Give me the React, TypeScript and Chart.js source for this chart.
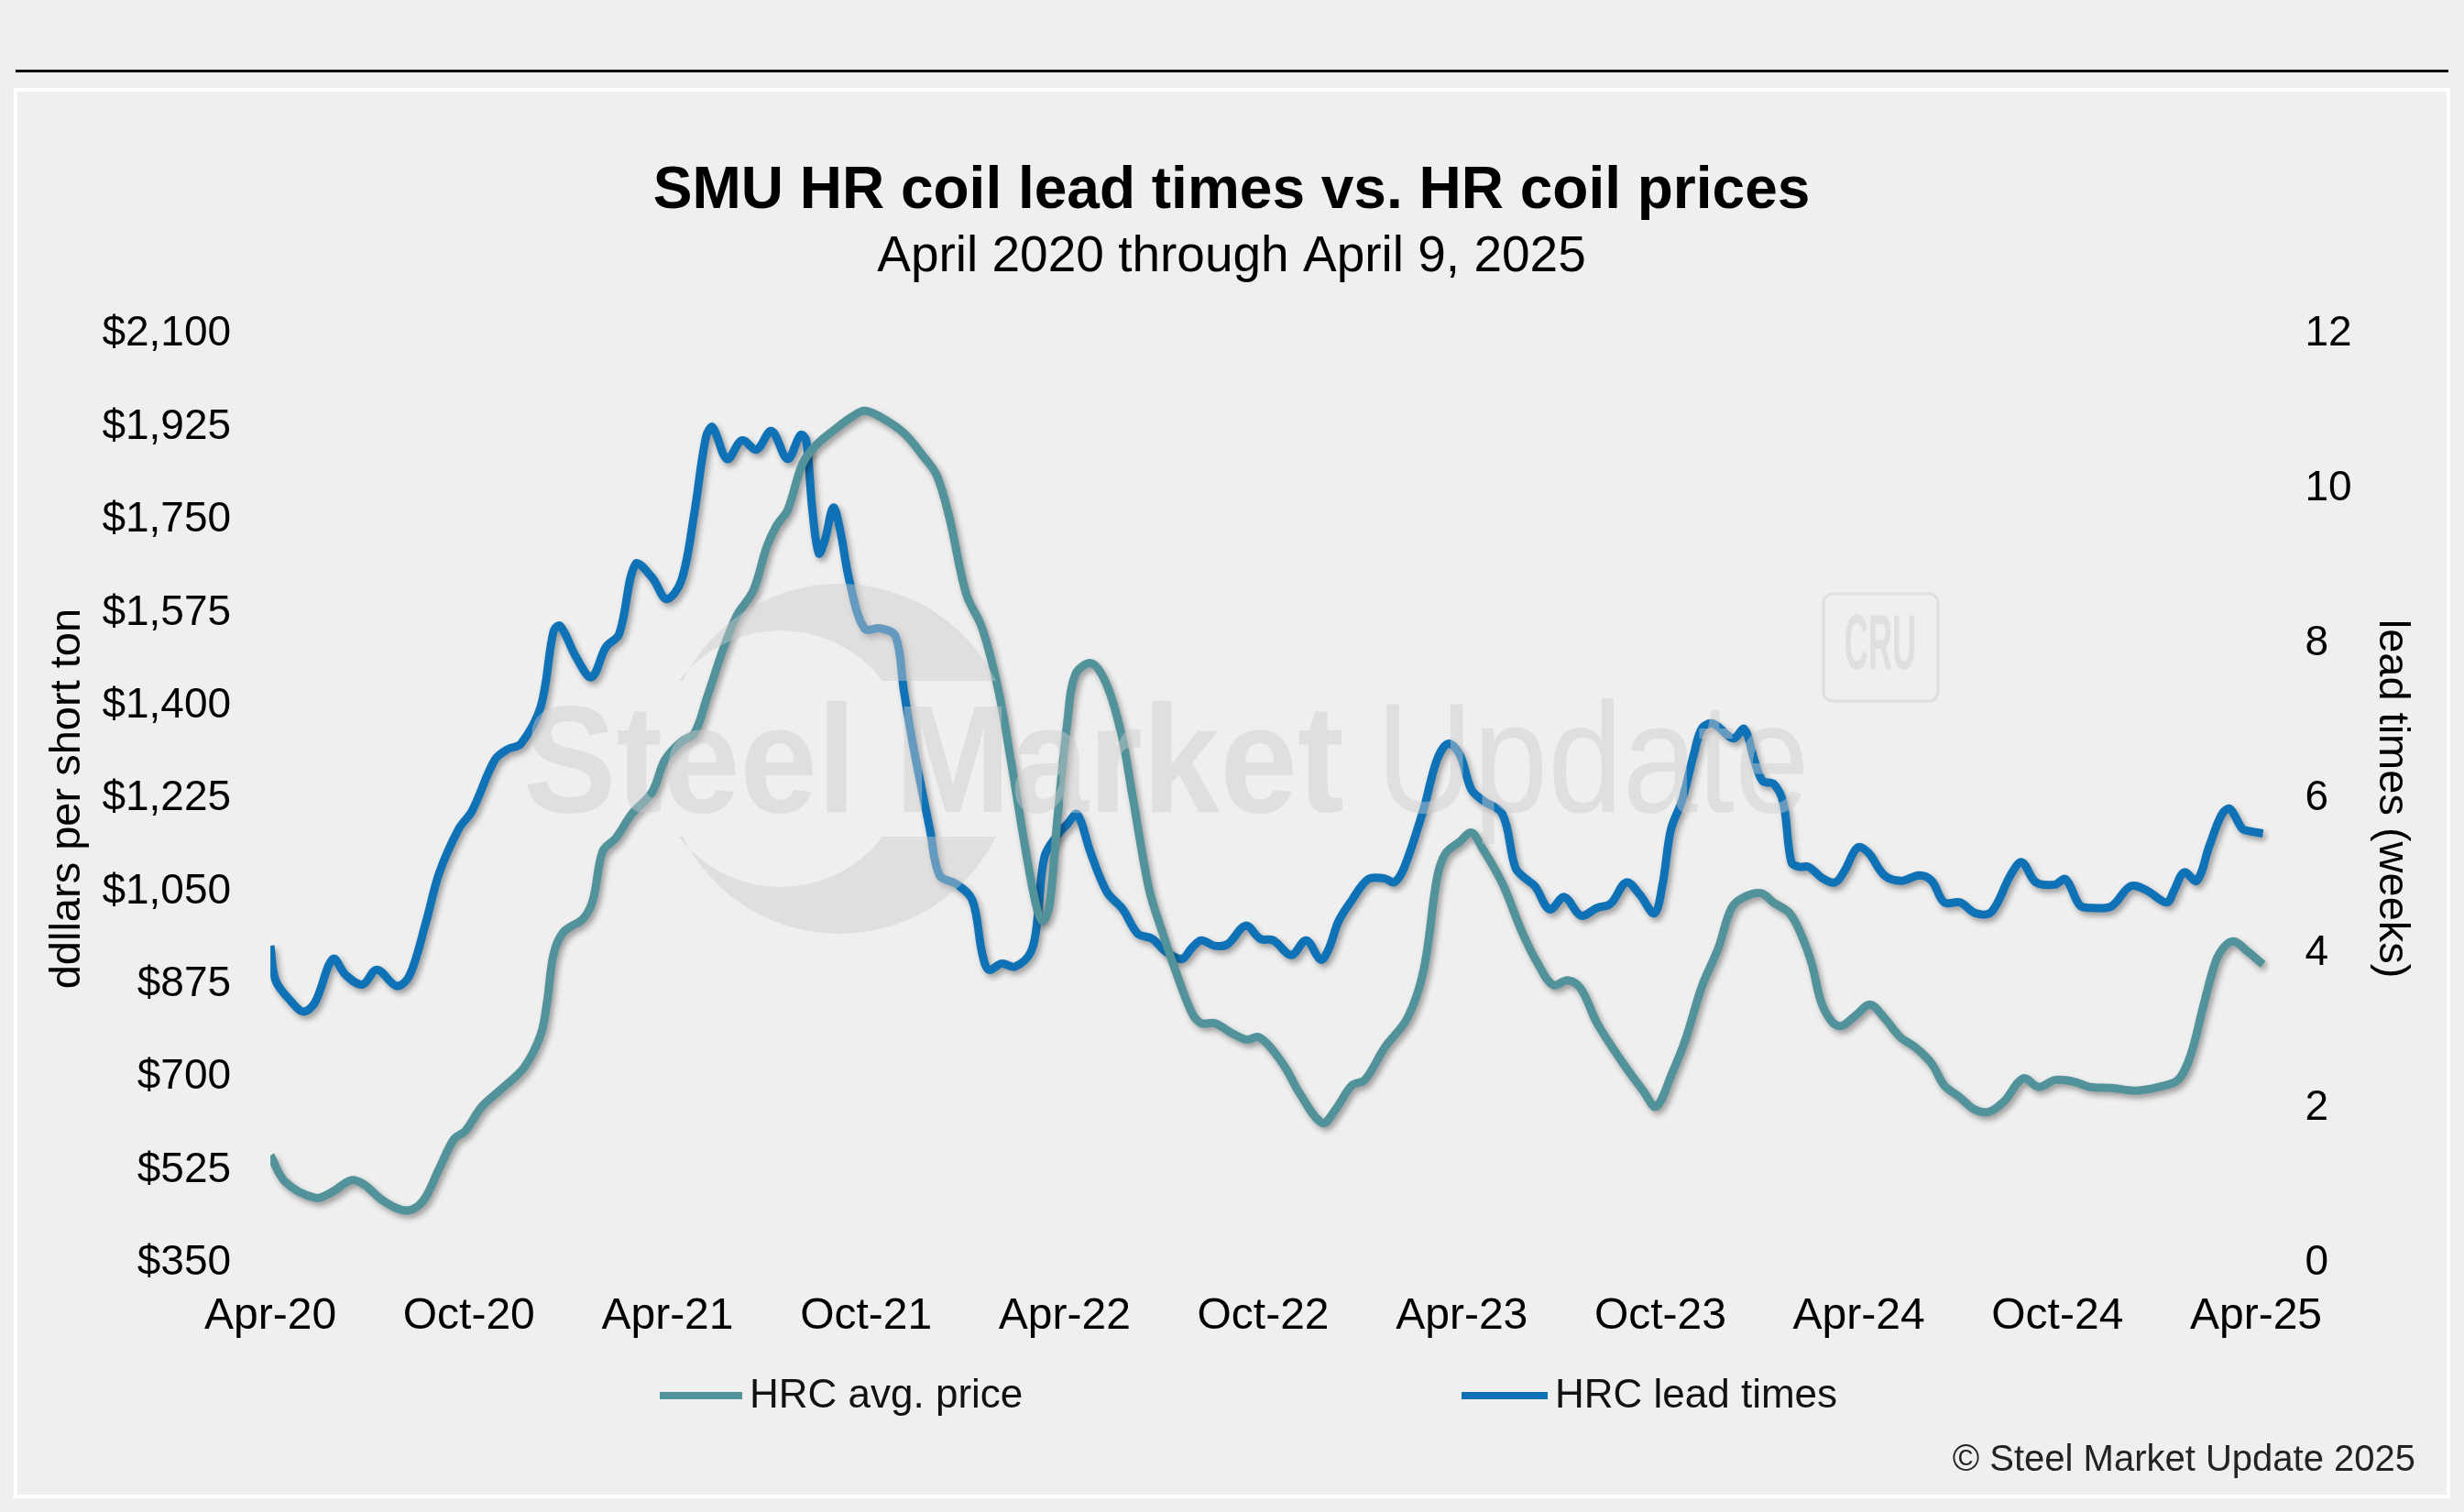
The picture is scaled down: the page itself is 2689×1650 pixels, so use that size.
import { useEffect, useRef } from 'react';
import { Chart, registerables } from 'chart.js';

Chart.register(...registerables);

// x positions are months since April 2020
const tickMonths = [0, 6, 12, 18, 24, 30, 36, 42, 48, 54, 60];
const tickLabels = ['Apr-20', 'Oct-20', 'Apr-21', 'Oct-21', 'Apr-22', 'Oct-22', 'Apr-23', 'Oct-23', 'Apr-24', 'Oct-24', 'Apr-25'];

const priceMonths = [
  0, 0.45, 1.35, 1.84, 2.43, 2.83, 3.42, 4.11, 4.61, 5.1, 5.55, 5.89, 6.39, 6.98, 7.67, 8.17, 8.36, 8.56, 8.86,
  9.45, 9.75, 10.04, 10.44, 10.93, 11.53, 11.92, 12.42, 12.81, 13.21, 13.7, 14.1, 14.59, 15.0, 15.3, 15.63,
  16.07, 16.47, 17.06, 17.56, 17.95, 18.44, 19.14, 19.73, 20.13, 20.52, 21.02, 21.51, 22.0, 22.4, 22.8, 23.14,
  23.34, 23.54, 23.78, 24.08, 24.33, 24.82, 25.27, 25.71, 26.06, 26.55, 26.95, 27.34, 27.84, 28.13, 28.53,
  29.12, 29.52, 29.86, 30.28, 30.7, 31.1, 31.79, 32.19, 32.68, 33.07, 33.67, 34.36, 34.85, 35.25, 35.5, 35.94,
  36.29, 36.63, 37.23, 37.82, 38.31, 38.76, 39.2, 39.6, 40.09, 40.88, 41.48, 41.87, 42.37, 42.76, 43.26, 43.75,
  44.15, 44.54, 45.04, 45.43, 45.91, 46.29, 46.58, 46.86, 47.2, 47.48, 47.91, 48.34, 48.77, 49.25, 49.72, 50.2,
  50.58, 51.06, 51.49, 51.92, 52.39, 52.96, 53.44, 53.92, 54.49, 54.97, 55.63, 56.39, 57.06, 57.64, 58.02,
  58.4, 58.78, 59.07, 59.35, 59.73, 60.21,
];
const priceValues = [
  553, 503, 473, 483, 506, 498, 467, 449, 467, 528, 584, 599, 645, 678, 719, 781, 842, 933, 974,
  999, 1035, 1126, 1151, 1197, 1237, 1298, 1333, 1348, 1419, 1510, 1571, 1617, 1700, 1740, 1769,
  1855, 1890, 1921, 1944, 1956, 1944, 1914, 1870, 1835, 1754, 1612, 1546, 1429, 1288, 1136, 1024,
  994, 1024, 1186, 1369, 1460, 1480, 1440, 1348, 1227, 1055, 974, 903, 822, 802, 802,
  781, 771, 776, 752, 715, 670, 614, 640, 685, 695, 756, 812, 903, 1075, 1121, 1144,
  1161, 1131, 1065, 974, 913, 874, 883, 867, 802, 726, 675, 645, 710, 771, 872, 943,
  1019, 1040, 1047, 1029, 1009, 964, 913, 842, 804, 797, 817, 837, 812, 776, 756, 726,
  685, 662, 640, 635, 655, 698, 682, 695, 692, 682, 680, 675, 682, 695, 741,
  832, 918, 948, 956, 938, 913,
];

const leadMonths = [
  0, 0.16, 0.65, 1.0, 1.35, 1.89, 2.28, 2.78, 3.22, 3.82, 4.21, 4.71, 5.1, 5.69, 6.09, 6.78, 7.18, 7.57, 8.17,
  8.56, 8.76, 9.25, 9.7, 10.14, 10.54, 11.03, 11.53, 11.97, 12.42, 12.81, 13.16, 13.36, 13.8, 14.25, 14.69,
  15.14, 15.63, 16.02, 16.19, 16.37, 16.57, 16.76, 17.01, 17.21, 17.51, 17.95, 18.44, 18.89, 19.14, 19.43,
  19.93, 20.22, 20.72, 21.21, 21.51, 21.71, 22.1, 22.5, 22.99, 23.19, 23.39, 23.78, 24.08, 24.38, 24.77, 25.27,
  25.76, 26.2, 26.65, 27.04, 27.54, 27.84, 28.13, 28.53, 28.92, 29.47, 29.91, 30.31, 30.85, 31.3, 31.74, 31.99,
  32.28, 32.68, 33.17, 33.67, 33.96, 34.26, 34.85, 35.25, 35.59, 35.94, 36.29, 36.63, 37.23, 37.62, 37.92,
  38.21, 38.66, 39.1, 39.6, 40.09, 40.49, 40.98, 41.38, 41.82, 42.07, 42.32, 42.66, 43.01, 43.26, 43.6, 44.2,
  44.54, 44.84, 45.09, 45.43, 45.72, 45.96, 46.2, 46.48, 46.91, 47.29, 47.58, 47.96, 48.29, 48.77, 49.29,
  49.82, 50.2, 50.58, 51.06, 51.53, 52.01, 52.58, 52.92, 53.35, 53.92, 54.25, 54.68, 55.06, 55.63, 56.21,
  56.68, 57.3, 57.54, 57.83, 58.21, 58.59, 58.97, 59.21, 59.59, 59.83, 60.21,
];
const leadValues = [
  4.1, 3.65, 3.37, 3.25, 3.37, 3.93, 3.72, 3.6, 3.79, 3.58, 3.72, 4.42, 5.04, 5.61, 5.84, 6.5, 6.64, 6.71, 7.19,
  8.17, 8.23, 7.82, 7.57, 7.96, 8.13, 9.03, 8.86, 8.58, 8.82, 9.69, 10.67, 10.8, 10.39, 10.63, 10.51,
  10.75, 10.39, 10.7, 10.63, 9.76, 9.17, 9.35, 9.76, 9.48, 8.79, 8.2, 8.2, 8.1, 7.4, 6.67,
  5.6, 5.01, 4.9, 4.69, 4.0, 3.79, 3.87, 3.83, 4.03, 4.49, 5.25, 5.53, 5.67, 5.8, 5.32, 4.8,
  4.57, 4.26, 4.19, 4.03, 3.93, 4.07, 4.17, 4.1, 4.12, 4.36, 4.19, 4.17, 3.98, 4.17, 3.92, 4.07,
  4.42, 4.69, 4.96, 4.97, 4.92, 5.11, 5.87, 6.5, 6.71, 6.57, 6.12, 5.98, 5.8, 5.11, 4.97,
  4.87, 4.57, 4.73, 4.49, 4.59, 4.64, 4.92, 4.76, 4.52, 4.9, 5.6, 5.98, 6.57, 6.91, 6.97, 6.78,
  6.9, 6.5, 6.23, 6.19, 5.94, 5.18, 5.12, 5.12, 4.97, 4.92, 5.08, 5.37, 5.3, 5.01, 4.94,
  5.01, 4.94, 4.66, 4.66, 4.52, 4.54, 5.01, 5.18, 4.92, 4.89, 4.96, 4.62, 4.59, 4.61, 4.87,
  4.82, 4.66, 4.83, 5.05, 4.94, 5.39, 5.8, 5.87, 5.61, 5.58, 5.55,
];

const TEAL = '#52939b';
const BLUE = '#1072b6';
const FONT = '"Liberation Sans", Arial, Helvetica, sans-serif';
const WATERMARK = 'rgba(205,205,205,0.45)';

// page frame: rule on top, white-edged panel
const framePlugin = {
  id: 'frame',
  beforeDraw(chart: Chart) {
    const { ctx, width, height } = chart;
    ctx.save();
    ctx.fillStyle = '#efefef';
    ctx.fillRect(0, 0, width, height);
    ctx.fillStyle = '#000';
    ctx.fillRect(17, 76, 2655, 3);
    ctx.strokeStyle = '#ffffff';
    ctx.lineWidth = 4;
    ctx.strokeRect(17, 98, 2655, 1535);
    ctx.restore();
  },
};

const shadowPlugin = {
  id: 'lineShadow',
  beforeDatasetDraw(chart: Chart) {
    const ctx = chart.ctx;
    ctx.save();
    ctx.shadowColor = 'rgba(0,0,0,0.35)';
    ctx.shadowBlur = 6;
    ctx.shadowOffsetX = 3;
    ctx.shadowOffsetY = 4;
  },
  afterDatasetDraw(chart: Chart) {
    chart.ctx.restore();
  },
};

const watermarkPlugin = {
  id: 'watermark',
  afterDatasetsDraw(chart: Chart) {
    const { ctx, width, height } = chart;
    ctx.save();
    ctx.fillStyle = WATERMARK;
    // globe crescent, cut where the wordmark runs through it
    ctx.save();
    ctx.beginPath();
    ctx.rect(0, 0, width, 743);
    ctx.rect(0, 913, width, height - 913);
    ctx.clip();
    ctx.beginPath();
    ctx.arc(916, 828, 191, 0, Math.PI * 2);
    ctx.arc(852, 828, 140, 0, Math.PI * 2, true);
    ctx.fill('evenodd');
    ctx.restore();
    // wordmark
    ctx.textBaseline = 'alphabetic';
    ctx.textAlign = 'left';
    ctx.save();
    ctx.translate(571, 886);
    ctx.scale(1, 1.1);
    ctx.font = `bold 152px ${FONT}`;
    ctx.fillText('Steel Market', 0, 0);
    ctx.restore();
    ctx.save();
    ctx.translate(1502, 886);
    ctx.scale(0.99, 1.15);
    ctx.font = `148px ${FONT}`;
    ctx.fillText('Update', 0, 0);
    ctx.restore();
    // CRU badge
    ctx.strokeStyle = WATERMARK;
    ctx.lineWidth = 3;
    ctx.beginPath();
    ctx.roundRect(1990, 648, 125, 117, 10);
    ctx.stroke();
    ctx.translate(2052, 706);
    ctx.scale(0.42, 1);
    ctx.textAlign = 'center';
    ctx.textBaseline = 'middle';
    ctx.font = `bold 86px ${FONT}`;
    ctx.fillText('CRU', 0, 0);
    ctx.restore();
  },
};

const legendItems = [
  { text: 'HRC avg. price', color: TEAL, x: 720, width: 90 },
  { text: 'HRC lead times', color: BLUE, x: 1595, width: 94 },
];

const footerPlugin = {
  id: 'footer',
  afterDraw(chart: Chart) {
    const ctx = chart.ctx;
    ctx.save();
    ctx.textBaseline = 'middle';
    ctx.textAlign = 'left';
    ctx.font = `44px ${FONT}`;
    legendItems.forEach((item) => {
      ctx.fillStyle = item.color;
      ctx.fillRect(item.x, 1519, item.width, 8);
      ctx.fillStyle = '#111';
      ctx.fillText(item.text, item.x + item.width + 8, 1524);
    });
    ctx.textAlign = 'right';
    ctx.font = `40px ${FONT}`;
    ctx.fillStyle = '#222';
    ctx.fillText('\u00a9 Steel Market Update 2025', 2636, 1594);
    ctx.restore();
  },
};

export default function App() {
  const canvasRef = useRef<HTMLCanvasElement>(null);

  useEffect(() => {
    const canvas = canvasRef.current;
    if (!canvas) return;

    const chart = new Chart(canvas, {
      type: 'line',
      data: {
        datasets: [
          {
            label: 'HRC avg. price',
            data: priceMonths.map((m, i) => ({ x: m, y: priceValues[i] })),
            borderColor: TEAL,
            backgroundColor: TEAL,
            borderWidth: 9,
            pointRadius: 0,
            tension: 0.35,
            yAxisID: 'y',
          },
          {
            label: 'HRC lead times',
            data: leadMonths.map((m, i) => ({ x: m, y: leadValues[i] })),
            borderColor: BLUE,
            backgroundColor: BLUE,
            borderWidth: 9,
            pointRadius: 0,
            tension: 0.35,
            yAxisID: 'y1',
          },
        ],
      },
      options: {
        animation: false,
        responsive: true,
        maintainAspectRatio: false,
        layout: { padding: { top: 100, left: 30, right: 31, bottom: 154 } },
        plugins: {
          legend: { display: false },
          tooltip: { enabled: false },
          title: {
            display: true,
            text: 'SMU HR coil lead times vs. HR coil prices',
            color: '#000',
            font: { family: FONT, size: 64, weight: 'bold' },
            padding: { top: 71, bottom: 0 },
          },
          subtitle: {
            display: true,
            text: 'April 2020 through April 9, 2025',
            color: '#000',
            font: { family: FONT, size: 55 },
            padding: { top: 0, bottom: 51 },
          },
        },
        scales: {
          x: {
            type: 'linear',
            min: 0,
            max: 60.4,
            grid: { display: false, drawTicks: false },
            border: { display: false },
            afterBuildTicks: (axis: any) => {
              axis.ticks = tickMonths.map((value) => ({ value }));
            },
            ticks: {
              autoSkip: false,
              maxRotation: 0,
              padding: 30,
              color: '#000',
              font: { family: FONT, size: 48 },
              callback: (value: any) => tickLabels[tickMonths.indexOf(Number(value))] ?? '',
            },
          },
          y: {
            position: 'left',
            min: 350,
            max: 2100,
            grid: { display: false, drawTicks: false },
            border: { display: false },
            ticks: {
              stepSize: 175,
              padding: 43,
              color: '#000',
              font: { family: FONT, size: 46 },
              callback: (value: any) => '$' + Number(value).toLocaleString('en-US'),
            },
            title: {
              display: true,
              text: 'ddllars per short ton',
              color: '#000',
              font: { family: FONT, size: 47 },
              padding: { top: 16, bottom: -34 },
            },
          },
          y1: {
            position: 'right',
            min: 0,
            max: 12,
            grid: { display: false, drawTicks: false },
            border: { display: false },
            ticks: {
              stepSize: 2,
              padding: 39,
              color: '#000',
              font: { family: FONT, size: 46 },
            },
            title: {
              display: true,
              text: 'lead times (weeks)',
              color: '#000',
              font: { family: FONT, size: 47 },
              padding: { top: 20, bottom: -24 },
            },
          },
        },
      },
      plugins: [framePlugin, shadowPlugin, watermarkPlugin, footerPlugin],
    });

    return () => {
      chart.destroy();
    };
  }, []);

  return (
    <div style={{ position: 'fixed', left: 0, top: 0, width: 2689, height: 1650, background: '#efefef' }}>
      <canvas ref={canvasRef} />
    </div>
  );
}
